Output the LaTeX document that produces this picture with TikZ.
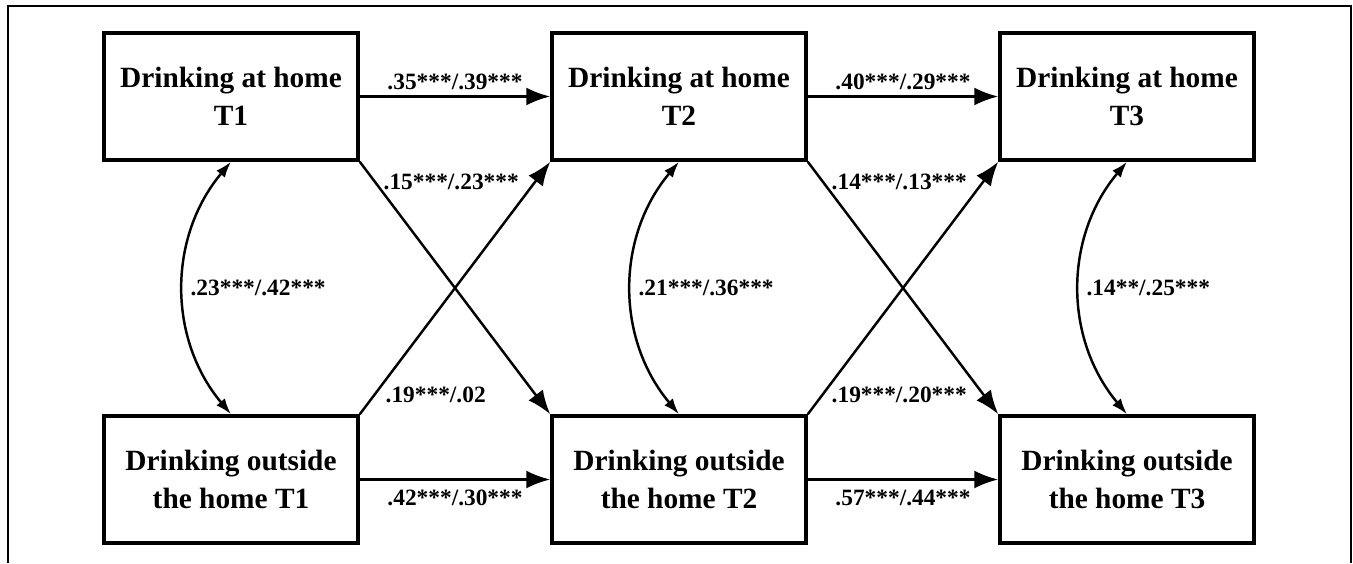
\documentclass[tikz,border=0pt]{standalone}
\usepackage{fontspec}
\setmainfont{Liberation Serif}
\usetikzlibrary{arrows.meta}
\tikzset{
  var/.style={draw, line width=2pt, minimum width=5.08cm, minimum height=2.54cm,
    align=center, font=\fontsize{16.7}{21.5}\selectfont\bfseries},
  coef/.style={font=\fontsize{13.3}{16}\selectfont\bfseries},
  reg/.style={->, line width=1.4pt},
  cov/.style={>={Latex[length=0.32cm,width=0.22cm]}, <->, line width=1.4pt},
}
\begin{document}
\begin{tikzpicture}[>={Latex[length=0.48cm,width=0.36cm]}]
    \useasboundingbox (0,0) rectangle (27.06,-11.26);
    % --- frame (open at the bottom)
    \draw[line width=1.4pt] (0.16,-11.26) -- (0.16,-0.12) -- (27.02,-0.12) -- (27.02,-11.26);
    % --- variables at T1, T2, T3
    \foreach \t/\x in {1/4.62,2/13.58,3/22.54} {
      \node[var] (h\t) at (\x,-1.93) {Drinking at home\\T\t};
      \node[var] (o\t) at (\x,-9.59) {Drinking outside\\the home T\t};
    }
    % --- autoregressive paths
    \draw[reg] (h1) -- (h2) node[coef,midway,above] (a12) {.35***/.39***};
    \draw[reg] (h2) -- (h3) node[coef,midway,above] (a23) {.40***/.29***};
    \draw[reg] (o1) -- (o2) node[coef,midway,below=2pt] (b12) {.42***/.30***};
    \draw[reg] (o2) -- (o3) node[coef,midway,below=2pt] (b23) {.57***/.44***};
    % --- cross-lagged paths
    \draw[reg] (h1.south east) -- (o2.north west);
    \draw[reg] (o1.north east) -- (h2.south west);
    \draw[reg] (h2.south east) -- (o3.north west);
    \draw[reg] (o2.north east) -- (h3.south west);
    \node[coef,anchor=west] (c12) at (7.55,-3.64) {.15***/.23***};
    \node[coef,anchor=west] (d12) at (7.59,-7.9) {.19***/.02};
    \node[coef,anchor=west] (c23) at (16.51,-3.64) {.14***/.13***};
    \node[coef,anchor=west] (d23) at (16.51,-7.9) {.19***/.20***};
    % --- within-time correlations
    \draw[cov] (h1.south) to[bend right=40] node[coef,midway,right] (r1) {.23***/.42***} (o1.north);
    \draw[cov] (h2.south) to[bend right=40] node[coef,midway,right] (r2) {.21***/.36***} (o2.north);
    \draw[cov] (h3.south) to[bend right=40] node[coef,midway,right] (r3) {.14**/.25***} (o3.north);
\end{tikzpicture}
\end{document}
